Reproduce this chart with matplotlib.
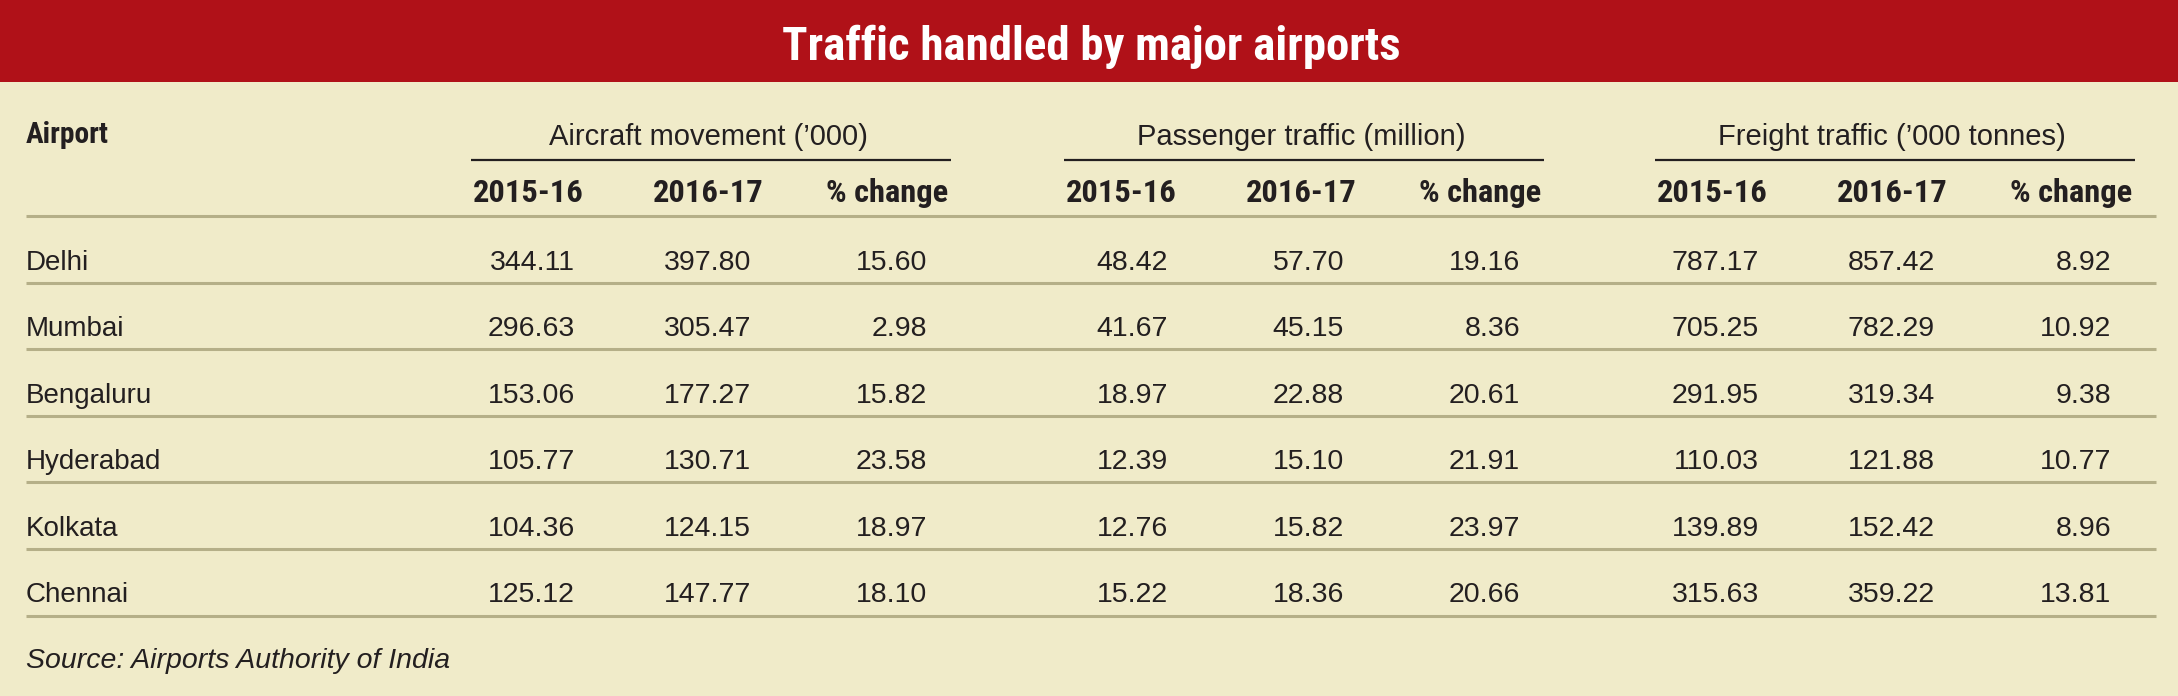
import os
import matplotlib
matplotlib.use("Agg")
import matplotlib.pyplot as plt
from matplotlib import font_manager
from matplotlib.font_manager import FontProperties
from matplotlib.patches import Rectangle
from matplotlib.textpath import TextPath

# ---- data ----
title = "Traffic handled by major airports"
airports = ["Delhi", "Mumbai", "Bengaluru", "Hyderabad", "Kolkata", "Chennai"]
groups = ["Aircraft movement (\u2019000)", "Passenger traffic (million)",
          "Freight traffic (\u2019000 tonnes)"]
sub_headers = ["2015-16", "2016-17", "% change"]

aircraft_1516 = [344.11, 296.63, 153.06, 105.77, 104.36, 125.12]
aircraft_1617 = [397.80, 305.47, 177.27, 130.71, 124.15, 147.77]
aircraft_chg = [15.60, 2.98, 15.82, 23.58, 18.97, 18.10]

pax_1516 = [48.42, 41.67, 18.97, 12.39, 12.76, 15.22]
pax_1617 = [57.70, 45.15, 22.88, 15.10, 15.82, 18.36]
pax_chg = [19.16, 8.36, 20.61, 21.91, 23.97, 20.66]

freight_1516 = [787.17, 705.25, 291.95, 110.03, 139.89, 315.63]
freight_1617 = [857.42, 782.29, 319.34, 121.88, 152.42, 359.22]
freight_chg = [8.92, 10.92, 9.38, 10.77, 8.96, 13.81]

source = "Source: Airports Authority of India"

# ---- style ----
RED = "#B01118"
BG = "#F0EBC9"
INK = "#231F20"
RULE = "#B5AF88"


def find_condensed_bold():
    # look for a narrow / condensed bold face among the installed fonts
    prefs = ["liberationsansnarrow", "robotocondensed", "notosans-condensed",
             "notosanscondensed", "opensans-condbold", "opensans_condensed",
             "opensanscondensed", "dejavusanscondensed", "notosans-semicondensed"]
    best, best_rank = None, 999
    for f in font_manager.fontManager.ttflist:
        fn = os.path.basename(f.fname).lower()
        nm = f.name.lower()
        st = str(f.stretch).lower()
        cond = ("narrow" in fn or "cond" in fn or "narrow" in nm or "condensed" in nm
                or st in ("condensed", "semi-condensed"))
        if not cond or "extra" in fn or "ultra" in fn:
            continue
        w = f.weight
        if not isinstance(w, (int, float)):
            w = {"bold": 700, "semibold": 600, "demibold": 600}.get(str(w).lower(), 400)
        if w < 600 or w > 750 or f.style != "normal":
            continue
        rank = len(prefs)
        for i, p in enumerate(prefs):
            if fn.startswith(p):
                rank = i
                break
        if rank < best_rank:
            best, best_rank = f.fname, rank
    if best:
        return FontProperties(fname=best)
    return FontProperties(family="Liberation Sans", weight="bold")


COND_BOLD = find_condensed_bold()
REG = "Liberation Sans"

W, H = 2178, 696
fig = plt.figure(figsize=(W / 100, H / 100), dpi=100, facecolor=BG)
ax = fig.add_axes([0, 0, 1, 1])
ax.set_xlim(0, W)
ax.set_ylim(H, 0)
ax.axis("off")
renderer = fig.canvas.get_renderer()


def fit_size(text, fp, target_w, target_cap, mode="min"):
    # font size (pt) matching a measured width and cap height in pixels
    t = ax.text(0, 0, text, fontproperties=fp, fontsize=10)
    w = t.get_window_extent(renderer).width
    t.remove()
    cap = TextPath((0, 0), "H", size=10, prop=fp).get_extents().height * 100 / 72
    sw = 10 * target_w / w
    sh = 10 * target_cap / cap
    if mode == "min":
        return min(sw, sh)
    return (sw * sh) ** 0.5


title_size = fit_size(title, COND_BOLD, 620, 35)
head_size = fit_size("2015-16 % change", COND_BOLD, 111 + 120 + 10, 23, mode="mean")
airport_size = fit_size("Airport", COND_BOLD, 83, 21, mode="mean")

# title band
ax.add_patch(Rectangle((0, 0), W, 82, facecolor=RED, edgecolor="none"))
ax.text(1091, 60, title, color="white", fontproperties=COND_BOLD, fontsize=title_size,
        ha="center", va="baseline")

# layout
left = 26
right_end = 2156
group_centers = [711, 1304, 1895]
group_half = 240
head_offsets = [-183, -3, 176]      # sub header centres from group centre
data_offsets = [-136, 40, 216]      # data right edges from group centre
row0 = 216
row_h = 66.6

ax.text(left, 143, "Airport", color=INK, fontproperties=COND_BOLD,
        fontsize=airport_size, va="baseline")

for g, gc in zip(groups, group_centers):
    ax.text(gc - 3, 145, g, color=INK, fontsize=21, fontfamily=REG,
            ha="center", va="baseline")
    ax.plot([gc - group_half, gc + group_half], [160, 160], color=INK, lw=1.6,
            solid_capstyle="butt")
    for s, off in zip(sub_headers, head_offsets):
        ax.text(gc + off, 202, s, color=INK, fontproperties=COND_BOLD,
                fontsize=head_size, ha="center", va="baseline")

# rules
for i in range(len(airports) + 1):
    y = row0 + i * row_h
    ax.plot([left, right_end], [y, y], color=RULE, lw=2.2, solid_capstyle="butt")

columns = [
    [aircraft_1516, aircraft_1617, aircraft_chg],
    [pax_1516, pax_1617, pax_chg],
    [freight_1516, freight_1617, freight_chg],
]

for r, name in enumerate(airports):
    base = row0 + r * row_h + 53.5
    ax.text(left, base, name, color=INK, fontsize=20, fontfamily=REG, va="baseline")
    for gc, cols in zip(group_centers, columns):
        for off, vals in zip(data_offsets, cols):
            ax.text(gc + off, base, f"{vals[r]:.2f}", color=INK, fontsize=20.5,
                    fontfamily=REG, ha="right", va="baseline")

ax.text(left, 668, source, color=INK, fontsize=20.5, fontfamily=REG,
        fontstyle="italic", va="baseline")

fig.savefig("out.png", dpi=100, facecolor=BG)
